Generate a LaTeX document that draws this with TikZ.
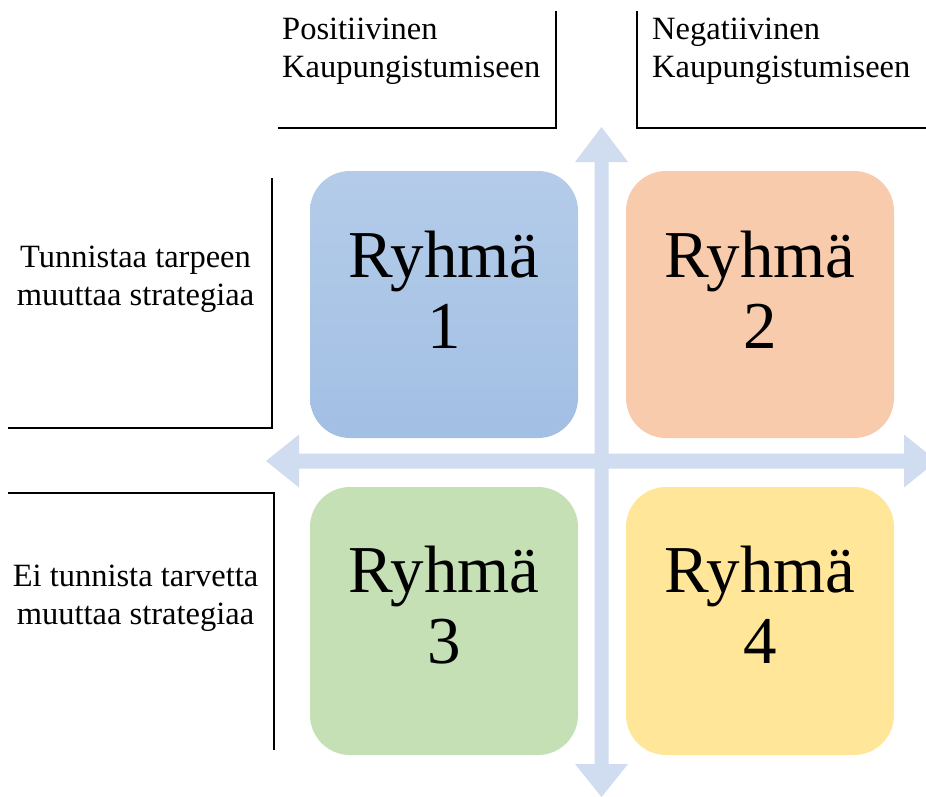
\documentclass[tikz,border=0pt]{standalone}
\usepackage{fontspec}
\setmainfont{Liberation Serif}
\definecolor{arrowcol}{HTML}{D0DCEF}
\definecolor{blueT}{HTML}{B4CCE9}
\definecolor{blueB}{HTML}{A2BFE4}
\definecolor{peach}{HTML}{F8CBAD}
\definecolor{greenF}{HTML}{C5E0B4}
\definecolor{goldF}{HTML}{FFE699}
\tikzset{
  grpbox/.style={rounded corners=40pt},
  bigtext/.style={inner sep=0pt, align=center, font=\fontsize{67}{71}\selectfont},
  smalltext/.style={inner sep=0pt, font=\fontsize{32.5}{38}\selectfont},
  bracket/.style={line width=2pt, draw=black},
}
\begin{document}
\begin{tikzpicture}[x=1pt,y=-1pt]
\useasboundingbox (0,0) rectangle (926,796);
\clip (0,0) rectangle (926,796);

% boxes
\shade[grpbox, top color=blueT, bottom color=blueB] (310,171) rectangle (578,438);
\fill[grpbox, peach] (626,171) rectangle (894,438);
\fill[grpbox, greenF] (310,487) rectangle (578,755);
\fill[grpbox, goldF] (626,487) rectangle (894,755);

% arrows
\fill[arrowcol] (601.5,127) -- (628,162) -- (608.5,162) -- (608.5,764) -- (628,764)
  -- (601.5,797) -- (575,764) -- (594.5,764) -- (594.5,162) -- (575,162) -- cycle;
\fill[arrowcol] (266,461) -- (299,434.5) -- (299,453.5) -- (904,453.5) -- (904,434.5)
  -- (937,461) -- (904,487.5) -- (904,468.5) -- (299,468.5) -- (299,487.5) -- cycle;

% box texts (base anchor = baseline of last line)
\node[bigtext, anchor=base] (g1) at (444,348) {Ryhmä\\1};
\node[bigtext, anchor=base] (g2) at (760,348) {Ryhmä\\2};
\node[bigtext, anchor=base] (g3) at (444,663) {Ryhmä\\3};
\node[bigtext, anchor=base] (g4) at (760,663) {Ryhmä\\4};

% headers
\node[smalltext, align=left, anchor=base west] (pos) at (282,77) {Positiivinen\\Kaupungistumiseen};
\node[smalltext, align=left, anchor=base west] (neg) at (652,77) {Negatiivinen\\Kaupungistumiseen};
\node[smalltext, align=center, anchor=base] (tun) at (135.5,305) {Tunnistaa tarpeen\\muuttaa strategiaa};
\node[smalltext, align=center, anchor=base] (ei) at (135.5,624) {Ei tunnista tarvetta\\muuttaa strategiaa};

% brackets
\draw[bracket] (556,11) -- (556,128) -- (278,128);
\draw[bracket] (637,11) -- (637,128) -- (926,128);
\draw[bracket] (272,178) -- (272,428) -- (8,428);
\draw[bracket] (8,493) -- (274,493) -- (274,750);
\end{tikzpicture}
\end{document}
